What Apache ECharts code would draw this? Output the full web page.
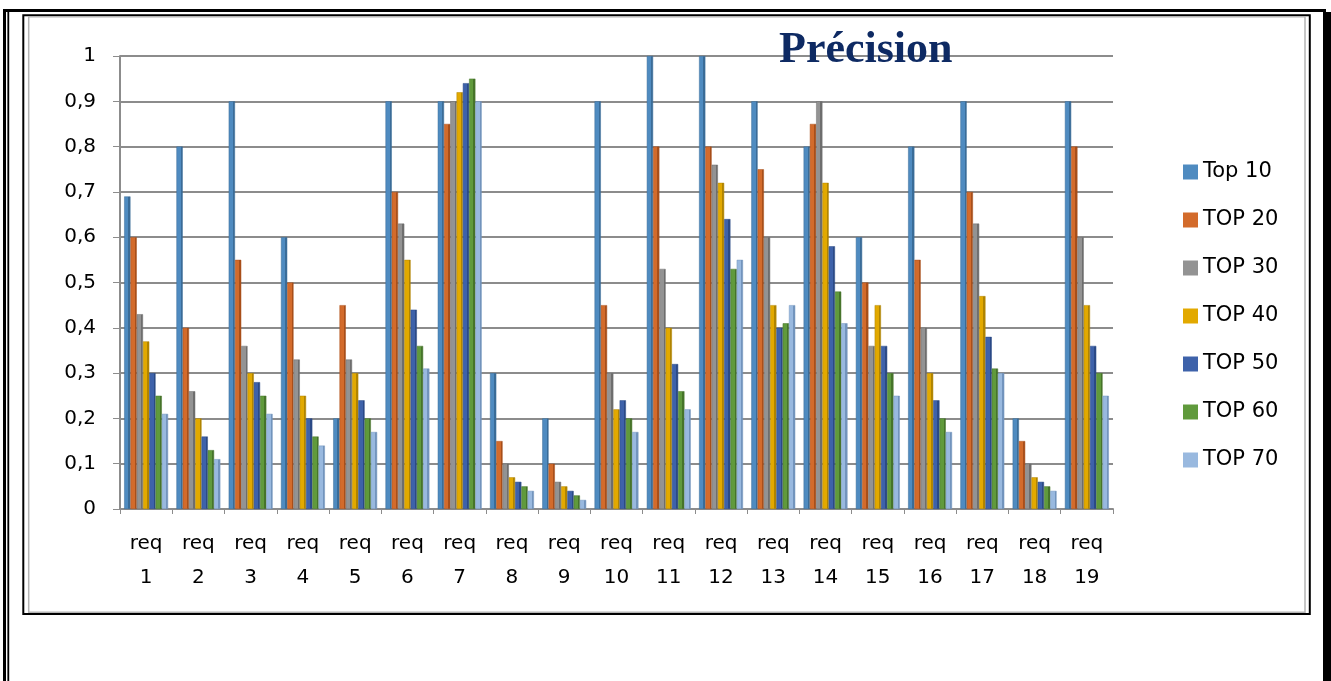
<!DOCTYPE html>
<html>
<head>
<meta charset="utf-8">
<script src="https://cdn.jsdelivr.net/npm/echarts@6/dist/echarts.min.js"></script>
<style>
html,body{margin:0;padding:0;background:#fff;}
#chart{width:1331px;height:681px;}
</style>
</head>
<body>
<div id="chart"></div>
<script>
const categories = ['req 1','req 2','req 3','req 4','req 5','req 6','req 7','req 8','req 9','req 10','req 11','req 12','req 13','req 14','req 15','req 16','req 17','req 18','req 19'];
const seriesNames = ['Top 10','TOP 20','TOP 30','TOP 40','TOP 50','TOP 60','TOP 70'];
const top10 = [0.69,0.8,0.9,0.6,0.2,0.9,0.9,0.3,0.2,0.9,1,1,0.9,0.8,0.6,0.8,0.9,0.2,0.9];
const top20 = [0.6,0.4,0.55,0.5,0.45,0.7,0.85,0.15,0.1,0.45,0.8,0.8,0.75,0.85,0.5,0.55,0.7,0.15,0.8];
const top30 = [0.43,0.26,0.36,0.33,0.33,0.63,0.9,0.1,0.06,0.3,0.53,0.76,0.6,0.9,0.36,0.4,0.63,0.1,0.6];
const top40 = [0.37,0.2,0.3,0.25,0.3,0.55,0.92,0.07,0.05,0.22,0.4,0.72,0.45,0.72,0.45,0.3,0.47,0.07,0.45];
const top50 = [0.3,0.16,0.28,0.2,0.24,0.44,0.94,0.06,0.04,0.24,0.32,0.64,0.4,0.58,0.36,0.24,0.38,0.06,0.36];
const top60 = [0.25,0.13,0.25,0.16,0.2,0.36,0.95,0.05,0.03,0.2,0.26,0.53,0.41,0.48,0.3,0.2,0.31,0.05,0.3];
const top70 = [0.21,0.11,0.21,0.14,0.17,0.31,0.9,0.04,0.02,0.17,0.22,0.55,0.45,0.41,0.25,0.17,0.3,0.04,0.25];
const yTicks = [0,0.1,0.2,0.3,0.4,0.5,0.6,0.7,0.8,0.9,1];

const allData = [top10, top20, top30, top40, top50, top60, top70];
const colors = ['#4f8bc0','#d36b2b','#939393','#e2a900','#3e62aa','#609a3c','#99b9df'];
const darks  = ['#3a6c98','#a84f1a','#6e6e6e','#b08400','#2b4a86','#46742a','#7294bd'];

function sideGrad(i){
  return new echarts.graphic.LinearGradient(0,0,1,0,[
    {offset:0,color:colors[i]},{offset:0.68,color:colors[i]},
    {offset:0.68,color:darks[i]},{offset:1,color:darks[i]}
  ]);
}

const chart = echarts.init(document.getElementById('chart'), null, {renderer:'canvas'});
const FONT = 'DejaVu Sans';
const option = {
  animation:false,
  backgroundColor:'#fff',
  title:{
    text:'Précision', left:779, top:29, padding:0,
    textStyle:{fontFamily:'Liberation Serif', fontWeight:'bold', fontSize:44, lineHeight:44, color:'#0e2a63'}
  },
  legend:{
    orient:'vertical', left:1178, top:155, itemWidth:15, itemHeight:15, itemGap:24,
    icon:'rect',
    data: seriesNames.map((n,i)=>({name:n, itemStyle:{color:colors[i], borderWidth:0}})),
    itemStyle:{borderWidth:0},
    textStyle:{fontFamily:FONT, fontSize:21, lineHeight:24, color:'#000'}
  },
  grid:{left:120, right:218, top:56, bottom:172, containLabel:false},
  xAxis:{
    type:'category', data:categories,
    axisLine:{show:true, lineStyle:{color:'#8c8c8c', width:2}},
    axisTick:{show:true, length:5, lineStyle:{color:'#8c8c8c', width:1}},
    axisLabel:{fontFamily:FONT, fontSize:20, lineHeight:34, color:'#000', margin:18, interval:0,
      formatter:v=>v.replace(' ','\n')},
    splitLine:{show:false}
  },
  yAxis:{
    type:'value', min:yTicks[0], max:yTicks[yTicks.length-1], interval:0.1,
    axisLine:{show:true, lineStyle:{color:'#8c8c8c', width:2}},
    axisTick:{show:true, length:7, lineStyle:{color:'#8c8c8c', width:1}},
    axisLabel:{fontFamily:FONT, fontSize:20, color:'#000', margin:24,
      formatter:v=>String(Math.round(v*10)/10).replace('.',',')},
    splitLine:{show:true, lineStyle:{color:'#8c8c8c', width:2}}
  },
  series: seriesNames.map((n,i)=>({
    name:n, type:'bar', data:allData[i],
    barGap:'0%', barCategoryGap:'16%',
    itemStyle:{color:sideGrad(i), borderColor:darks[i], borderWidth:0.5}
  })),
  graphic:[
    {type:'rect', shape:{x:3,y:9,width:1323,height:3}, style:{fill:'#000'}, silent:true},
    {type:'rect', shape:{x:3,y:9,width:3,height:672}, style:{fill:'#000'}, silent:true},
    {type:'rect', shape:{x:7.4,y:12,width:1.8,height:669}, style:{fill:'#000'}, silent:true},
    {type:'rect', shape:{x:1323,y:12,width:8,height:669}, style:{fill:'#000'}, silent:true},
    {type:'rect', shape:{x:23.3,y:15.2,width:1286.5,height:598.8}, style:{fill:'none', stroke:'#000', lineWidth:2}, silent:true},
    {type:'rect', shape:{x:28.7,y:16.7,width:1276.3,height:595.5}, style:{fill:'none', stroke:'#b4b4b4', lineWidth:1.5}, silent:true}
  ]
};
chart.setOption(option);
</script>
</body>
</html>
